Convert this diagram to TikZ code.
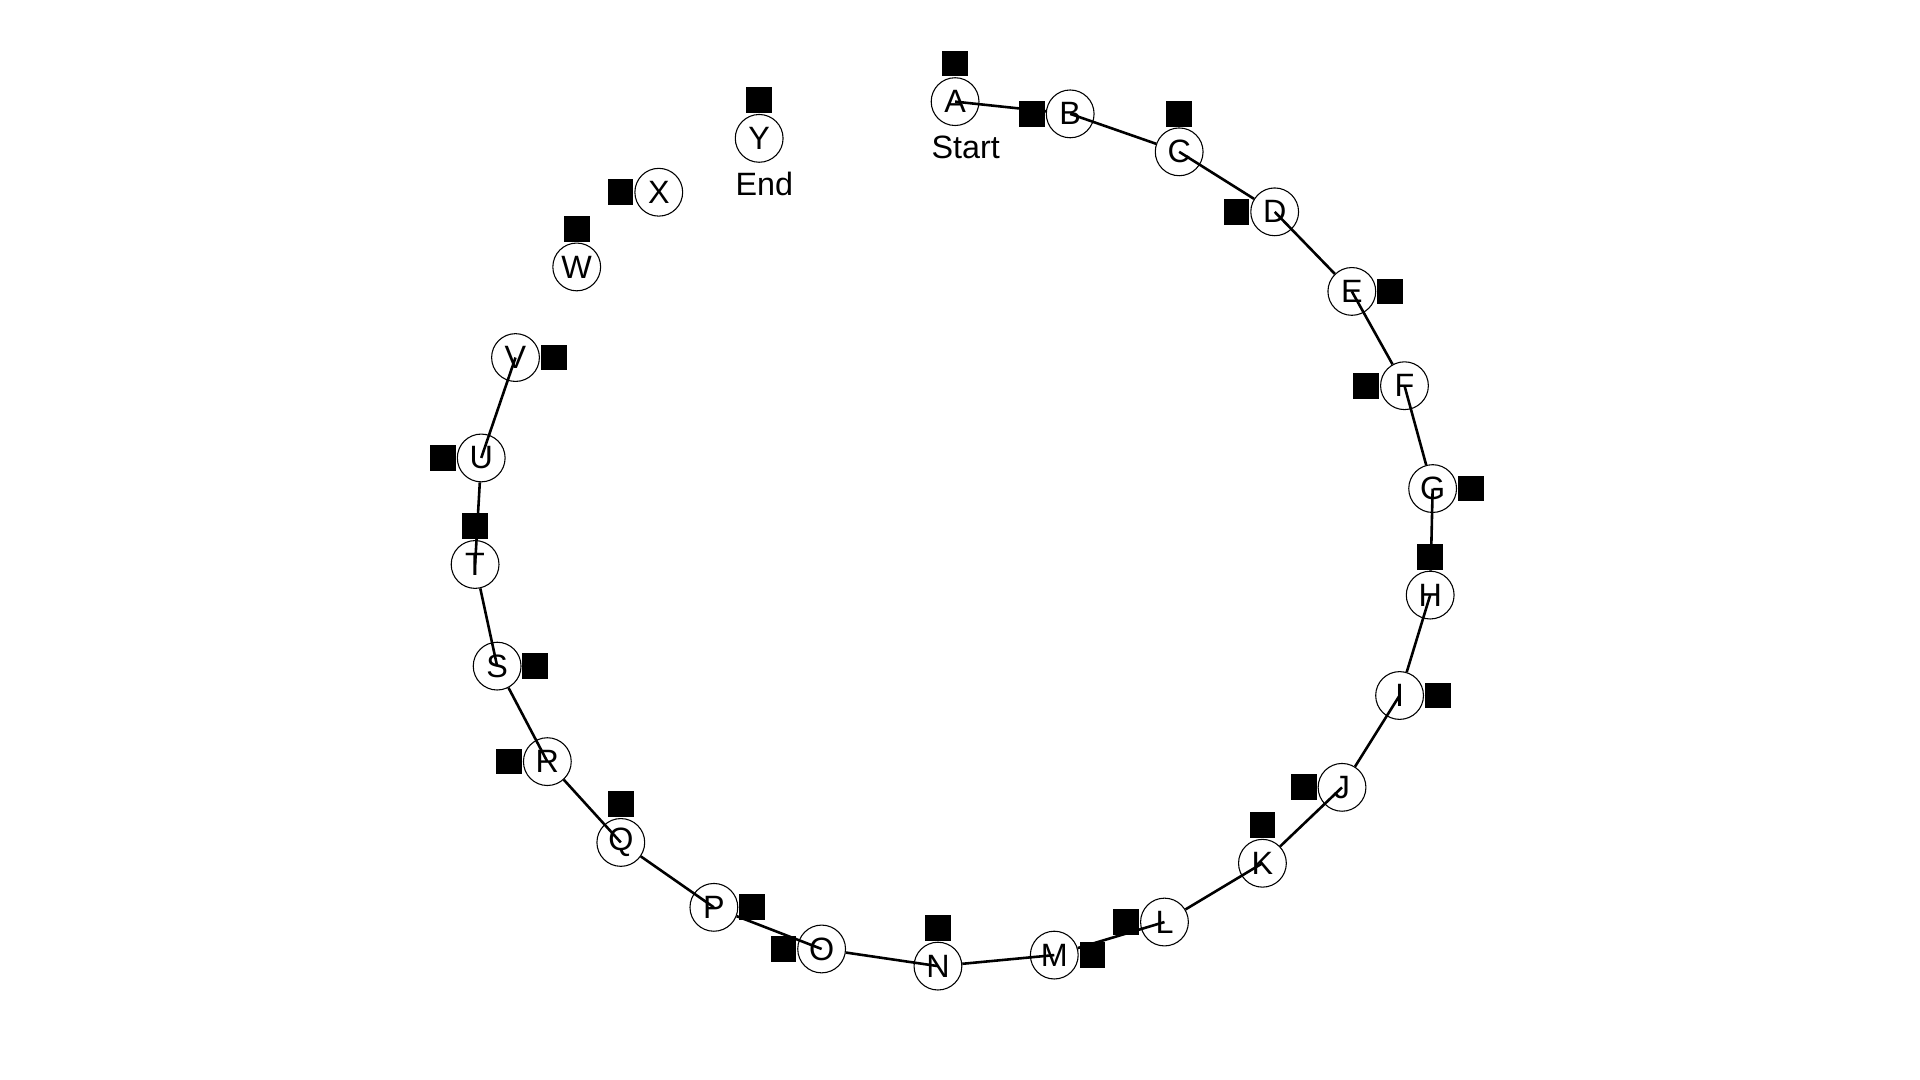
\documentclass[tikz,border=0pt]{standalone}
\usepackage{fontspec}
\setmainfont{Liberation Sans}
\usetikzlibrary{positioning}
\begin{document}
\begin{tikzpicture}[x=0.01cm,y=-0.01cm,
    vertex/.style={circle,draw,line width=0.25pt,minimum size=0.39cm,inner sep=0pt,
      font=\fontsize{7.5}{9}\selectfont},
    blk/.style={fill=black,minimum size=0.21cm,inner sep=0pt},
    tag/.style={inner sep=0pt,anchor=north west,font=\fontsize{7.5}{9}\selectfont}]
  \useasboundingbox (0,0) rectangle (1568,882);
  \draw
    (780,83) node[vertex] (A){A}
    (874,93) node[vertex] (B){B}
    (963,124) node[vertex] (C){C}
    (1041,173) node[vertex] (D){D}
    (1104,238) node[vertex] (E){E}
    (1147,315) node[vertex] (F){F}
    (1170,399) node[vertex] (G){G}
    (1168,486) node[vertex] (H){H}
    (1143,568) node[vertex] (I){I}
    (1096,643) node[vertex] (J){J}
    (1031,705) node[vertex] (K){K}
    (951,753) node[vertex] (L){L}
    (861,780) node[vertex] (M){M}
    (766,789) node[vertex] (N){N}
    (671,775) node[vertex] (O){O}
    (583,741) node[vertex] (P){P}
    (507,688) node[vertex] (Q){Q}
    (447,622) node[vertex] (R){R}
    (406,544) node[vertex] (S){S}
    (388,461) node[vertex] (T){T}
    (393,374) node[vertex] (U){U}
    (421,292) node[vertex] (V){V}
    (471,218) node[vertex] (W){W}
    (538,157) node[vertex] (X){X}
    (620,113) node[vertex] (Y){Y};
  \node[tag] (start) at ([yshift=-0.07cm]A.west |- A.south) {Start};
  \node[tag] (end) at ([yshift=-0.07cm]Y.west |- Y.south) {End};
  \begin{scope}[line width=0.6pt]
    \draw (A.center) to (B);
    \draw (B.center) to (C);
    \draw (C.center) to (D);
    \draw (D.center) to (E);
    \draw (E.center) to (F);
    \draw (F.center) to (G);
    \draw (G.center) to (H);
    \draw (H.center) to (I);
    \draw (I.center) to (J);
    \draw (J.center) to (K);
    \draw (K.center) to (L);
    \draw (L.center) to (M);
    \draw (M.center) to (N);
    \draw (N.center) to (O);
    \draw (O.center) to (P);
    \draw (P.center) to (Q);
    \draw (Q.center) to (R);
    \draw (R.center) to (S);
    \draw (S.center) to (T);
    \draw (T.center) to (U);
    \draw (U.center) to (V.center);
  \end{scope}
  % black squares touching each circle
  \node[blk, above=0pt of A] (sqA) {};
  \node[blk, left=0pt of B] (sqB) {};
  \node[blk, above=0pt of C] (sqC) {};
  \node[blk, left=0pt of D] (sqD) {};
  \node[blk, right=0pt of E] (sqE) {};
  \node[blk, left=0pt of F] (sqF) {};
  \node[blk, right=0pt of G] (sqG) {};
  \node[blk, above=0pt of H] (sqH) {};
  \node[blk, right=0pt of I] (sqI) {};
  \node[blk, left=0pt of J] (sqJ) {};
  \node[blk, above=0pt of K] (sqK) {};
  \node[blk, left=0pt of L] (sqL) {};
  \node[blk, right=0pt of M] (sqM) {};
  \node[blk, above=0pt of N] (sqN) {};
  \node[blk, left=0pt of O] (sqO) {};
  \node[blk, right=0pt of P] (sqP) {};
  \node[blk, above=0pt of Q] (sqQ) {};
  \node[blk, left=0pt of R] (sqR) {};
  \node[blk, right=0pt of S] (sqS) {};
  \node[blk, above=0pt of T] (sqT) {};
  \node[blk, left=0pt of U] (sqU) {};
  \node[blk, right=0pt of V] (sqV) {};
  \node[blk, above=0pt of W] (sqW) {};
  \node[blk, left=0pt of X] (sqX) {};
  \node[blk, above=0pt of Y] (sqY) {};
\end{tikzpicture}
\end{document}
